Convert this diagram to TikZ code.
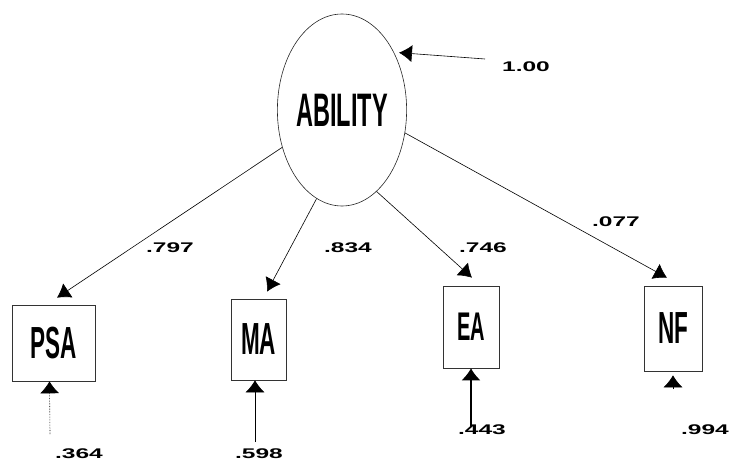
\documentclass[tikz,border=0pt]{standalone}
\usepackage{fontspec}
\setmainfont{Liberation Sans}
\newfontfamily\narrowfont[FakeStretch=0.5]{Liberation Sans}
\newfontfamily\widefont[FakeStretch=1.75]{Liberation Sans}
\usetikzlibrary{shapes.geometric,arrows.meta}

\begin{document}
\begin{tikzpicture}[x=1pt,y=1pt]
\tikzset{
% latent factor and observed scores
latent node/.style={ellipse,draw=black!85,line width=.6pt,inner sep=0,minimum width=110pt,minimum height=192pt,font=\narrowfont\bfseries\fontsize{47}{47}\selectfont},
observed node/.style={rectangle,draw=black!80,line width=.6pt,inner sep=0,font=\narrowfont\bfseries\fontsize{45}{45}\selectfont},
loading/.style={draw,line width=.6pt,-{Latex[length=13pt,width=17pt]}},
residual/.style={draw,line width=.6pt,-{Latex[length=12pt,width=19pt]}},
coef/.style={font=\widefont\bfseries\fontsize{14}{14}\selectfont,inner sep=0}
}
\useasboundingbox (0,0) rectangle (730,-462);

% the factor
\node(ability)[latent node] at (342,-110) {ABILITY};

% the four indicators
\node(psa)[observed node,minimum width=83pt,minimum height=76pt] at (53.5,-343) {PSA};
\node(ma)[observed node,minimum width=55pt,minimum height=81pt] at (258.5,-339.5) {MA};
\node(ea)[observed node,minimum width=56pt,minimum height=82pt] at (471,-327) {\fontsize{40}{40}\selectfont EA};
\node(nf)[observed node,minimum width=58pt,minimum height=85pt] at (673,-328.5) {NF};

% loadings
\draw[loading] (ability.212) -- ([xshift=3.5pt,yshift=7pt]psa.north);
\draw[loading] (ability.254) -- ([xshift=8.5pt,yshift=7pt]ma.north);
\draw[loading] (ability.293) -- ([xshift=1pt,yshift=8pt]ea.north);
\draw[loading] (ability.340) -- ([xshift=-6pt,yshift=8pt]nf.north);
\node(l797)[coef] at (170,-248) {.797};
\node(l834)[coef] at (348,-248) {.834};
\node(l746)[coef] at (483,-248) {.746};
\node(l077)[coef] at (616,-222) {.077};

% factor variance
\coordinate(var) at (485,-59);
\draw[loading,shorten >=5pt] (var) -- (ability.48);
\node(l100)[coef] at (526,-67) {1.00};

% residuals
\coordinate(epsa) at (50,-434);
\coordinate(ema) at (255,-442);
\coordinate(eea) at (471,-427);
\coordinate(enf) at (673,-389);
\draw[residual,densely dotted] (epsa) -- ([xshift=-4pt]psa.south);
\draw[residual] (ema) -- ([xshift=-3.5pt]ma.south);
\draw[residual,line width=1.2pt] (eea) -- (ea.south);
\draw[residual] (enf) -- ([yshift=-4pt]nf.south);
\node(l364)[coef] at (79,-454) {.364};
\node(l598)[coef] at (259,-454) {.598};
\node(l443)[coef] at (482,-430) {.443};
\node(l994)[coef] at (705,-430) {.994};
\end{tikzpicture}
\end{document}
